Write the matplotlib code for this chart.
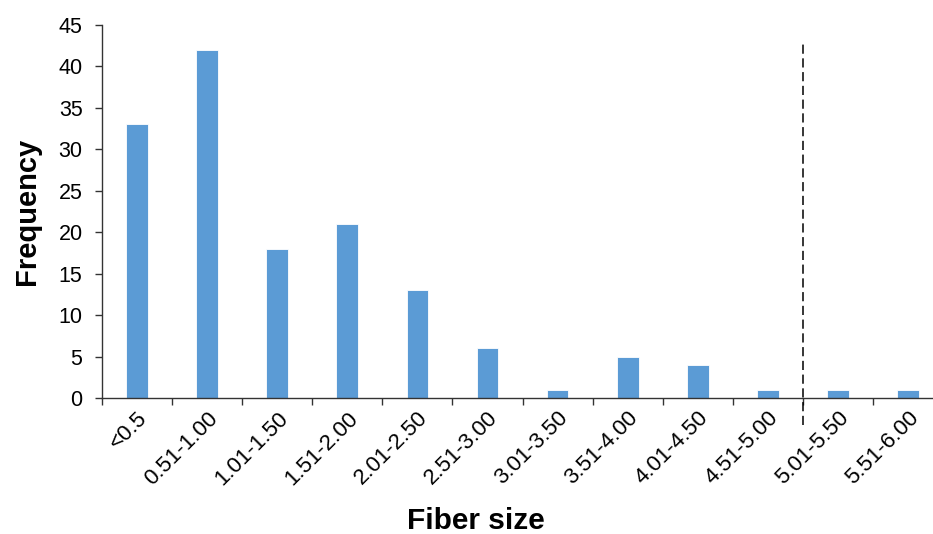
import numpy as np
import matplotlib.pyplot as plt

# ─── Data ────────────────────────────────────────────────────────────────
SIZE_BINS = ["<0.5", "0.51-1.00", "1.01-1.50", "1.51-2.00", "2.01-2.50", "2.51-3.00",
             "3.01-3.50", "3.51-4.00", "4.01-4.50", "4.51-5.00", "5.01-5.50", "5.51-6.00"]
FREQUENCY = [33, 42, 18, 21, 13, 6, 1, 5, 4, 1, 1, 1]
CUTOFF_POS = 9.5      # boundary between 4.51-5.00 and 5.01-5.50
CUTOFF_TOP = 43

BAR_COLOR = "#5B9BD5"

plt.rcParams["font.family"] = ["Liberation Sans", "DejaVu Sans"]

fig = plt.figure(figsize=(9.33, 5.34), dpi=100)
ax = fig.add_axes([0.1093, 0.2547, 0.9016, 0.6985])

x = np.arange(len(SIZE_BINS))
ax.bar(x, FREQUENCY, width=0.31, color=BAR_COLOR, edgecolor="white", linewidth=0.6)

ax.set_xlim(-0.5, len(SIZE_BINS) - 0.5)
ax.set_ylim(0, 45)
ax.set_yticks(np.arange(0, 46, 5))

# labels at centres, tick marks at category boundaries
ax.set_xticks(x)
ax.set_xticklabels(SIZE_BINS, rotation=45, ha="right", va="top", rotation_mode="anchor")
ax.set_xticks(np.arange(-0.5, len(SIZE_BINS) + 0.5, 1), minor=True)
ax.tick_params(axis="x", which="major", length=0, pad=7, labelsize=16)
ax.tick_params(axis="x", which="minor", length=5, width=1, direction="out", color="#333333")
ax.tick_params(axis="y", length=5, width=1, pad=9, labelsize=15.5, color="#333333")

for side in ["top", "right"]:
    ax.spines[side].set_visible(False)
for side in ["left", "bottom"]:
    ax.spines[side].set_linewidth(1.0)
    ax.spines[side].set_color("#333333")

ax.plot([CUTOFF_POS, CUTOFF_POS], [-3.2, CUTOFF_TOP], color="black", lw=1.1,
        linestyle=(0, (6, 3)), clip_on=False)

ax.set_xlabel("Fiber size", fontsize=21.5, fontweight="bold")
ax.xaxis.set_label_coords(0.445, -0.33)
ax.set_ylabel("Frequency", fontsize=21, fontweight="bold")
ax.yaxis.set_label_coords(-0.089, 0.5)
ax.xaxis.label.set_va("center")
ax.yaxis.label.set_va("center")

fig.savefig("out.png", dpi=100)
